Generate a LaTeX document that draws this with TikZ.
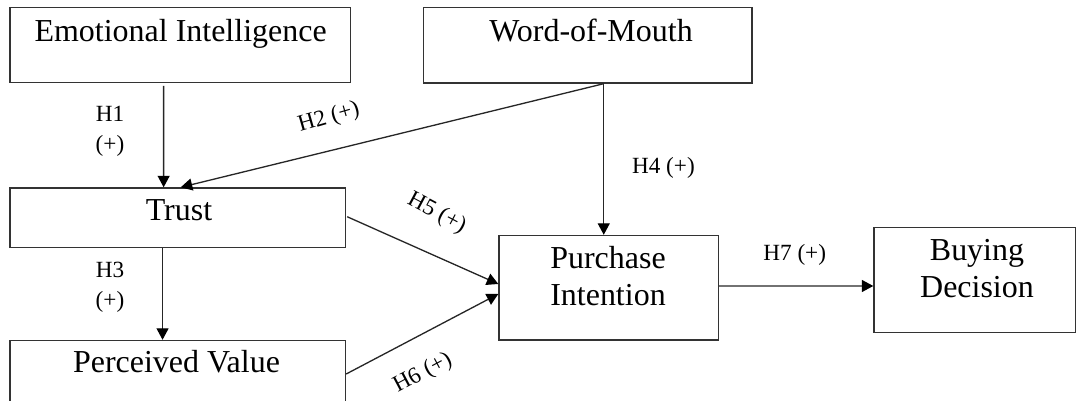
\documentclass[tikz,border=0pt]{standalone}
\usepackage{fontspec}
\setmainfont{Liberation Serif}
\usetikzlibrary{positioning,arrows.meta,calc}

\begin{document}
\begin{tikzpicture}[x=0.02cm, y=0.02cm,
	box/.style={draw=black!80, line width=0.8pt, inner sep=0pt},
	boxtext/.style={font=\fontsize{18.2}{21}\selectfont, align=center, inner sep=0pt},
	hyp/.style={font=\fontsize{13.2}{16.8}\selectfont, align=center, inner sep=0pt},
	arr/.style={draw=black!85, line width=0.75pt, -{Triangle[length=0.23cm, width=0.24cm, color=black]}}]
	\useasboundingbox (0,0) rectangle (1076,401);

	% Kaesten
	\foreach \name/\x/\y/\w/\h in {
		ei/180.25/356/340.5/74.5,
		wom/587.75/355.75/328.5/75.5,
		trust/177.75/183.25/335.5/59.5,
		pv/177.75/25.75/335.5/69.5,
		pi/608.75/113.25/219.5/104.5,
		bd/974.75/120.9/201.5/105.2
	}{
		\node[box, minimum width=\w*0.02cm, minimum height=\h*0.02cm] (\name) at (\x,\y) {};
	}

	% Texte
	\node[boxtext, anchor=base] (eitxt) at (180.6,359.3) {Emotional Intelligence};
	\node[boxtext, anchor=base] (womtxt) at (591,359.5) {Word-of-Mouth};
	\node[boxtext, anchor=base] (trusttxt) at (179,180.3) {Trust};
	\node[boxtext, anchor=base] (pvtxt) at (176.5,28.3) {Perceived Value};
	\node[boxtext] (pitxt) at (608,124.8) {Purchase\\Intention};
	\node[boxtext] (bdtxt) at (977,132) {Buying\\Decision};

	% Hypothesen
	\node[hyp] (h1) at (110,269.8) {H1\\(+)};
	\node[hyp, rotate=16] (h2) at (329,283) {H2 (+)};
	\node[hyp] (h3) at (110,113.5) {H3\\(+)};
	\node[hyp] (h4) at (663.4,233.4) {H4 (+)};
	\node[hyp, rotate=-28] (h5) at (436.7,187.7) {H5 (+)};
	\node[hyp, rotate=28] (h6) at (423,27.7) {H6 (+)};
	\node[hyp] (h7) at (794.7,145.7) {H7 (+)};

	% Pfeile
	\draw[arr] ($(ei.south)+(-16.6,-3)$) -- ($(trust.north)+(-14.1,0)$);
	\draw[arr] ($(wom.south)+(16,0)$) -- ($(trust.north)+(3,0)$);
	\draw[arr] ($(wom.south)+(16,0)$) -- ($(pi.north)+(-5,0)$);
	\draw[arr] ($(trust.east)+(1,1)$) -- ($(pi.west)+(0,3.75)$);
	\draw[arr] ($(pv.east)+(0,1.25)$) -- ($(pi.west)+(0,-6.25)$);
	\draw[arr] ($(trust.south)+(-15.2,0)$) -- ($(pv.north)+(-15.2,0)$);
	\draw[arr] ($(pi.east)+(0,1.75)$) -- ($(bd.west)+(0,-5.9)$);
\end{tikzpicture}
\end{document}
